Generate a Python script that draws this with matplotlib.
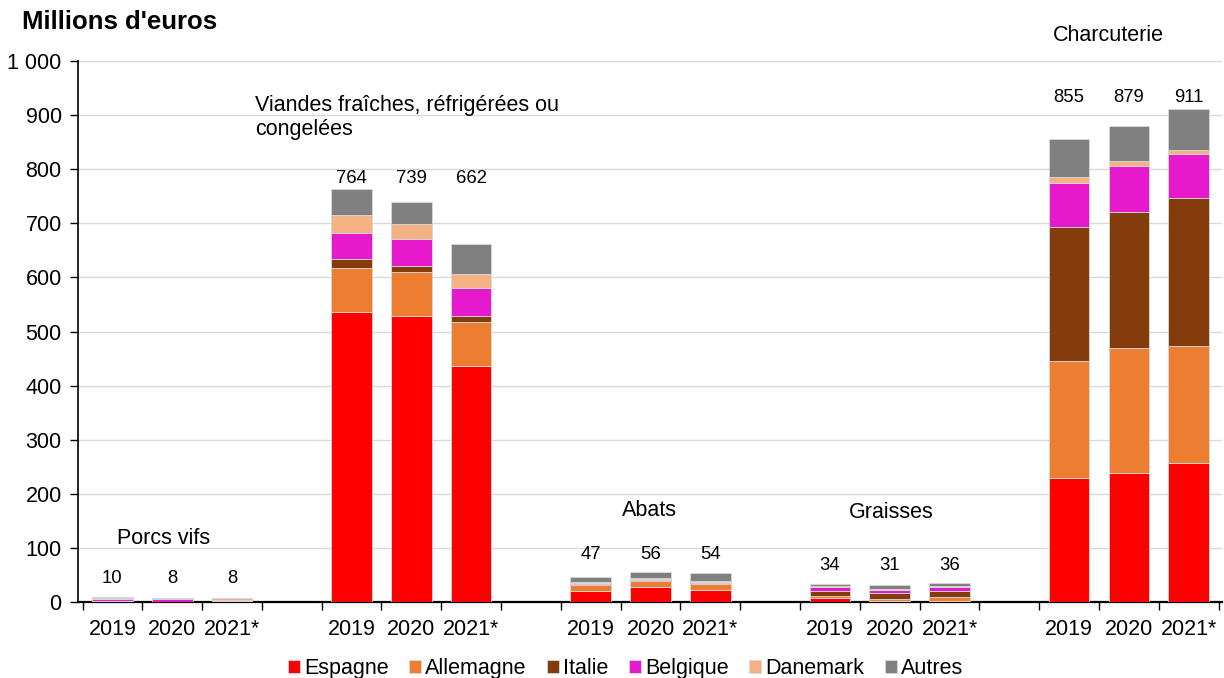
import matplotlib.pyplot as plt
import numpy as np

plt.rcParams["font.family"] = ["Liberation Sans", "DejaVu Sans"]

GROUPS = ["Porcs vifs", "Viandes fraîches, réfrigérées ou\ncongelées", "Abats", "Graisses", "Charcuterie"]
YEARS = ["2019", "2020", "2021*"]
COUNTRIES = ["Espagne", "Allemagne", "Italie", "Belgique", "Danemark", "Autres"]

# one row per bar (group x year), in country order
espagne = [1, 1, 1, 536, 529, 436, 20, 28, 22, 7, 2, 2, 229, 238, 257]
allemagne = [1, 0, 1, 81, 81, 82, 12, 11, 12, 4, 3, 7, 216, 232, 216]
italie = [0, 0, 0, 17, 11, 11, 1, 2, 1, 9, 12, 11, 248, 251, 274]
belgique = [3, 4, 2, 48, 50, 51, 2, 2, 3, 8, 6, 8, 81, 85, 81]
danemark = [3, 1, 3, 33, 28, 26, 2, 1, 1, 2, 1, 1, 12, 9, 8]
autres = [2, 2, 1, 49, 40, 56, 10, 12, 15, 4, 7, 7, 69, 64, 75]
totals = [10, 8, 8, 764, 739, 662, 47, 56, 54, 34, 31, 36, 855, 879, 911]

COLORS = ["#FF0000", "#ED7D31", "#843C0C", "#E619CC", "#F4B183", "#808080"]

series = [espagne, allemagne, italie, belgique, danemark, autres]

# three bars per group, one empty slot between groups
positions = np.array([g * 4 + i for g in range(len(GROUPS)) for i in range(len(YEARS))], dtype=float)

fig = plt.figure(figsize=(12.24, 6.78), dpi=100)
ax = fig.add_axes([0.064, 0.112, 0.934, 0.798])

bottom = np.zeros(len(positions))
for name, values, color in zip(COUNTRIES, series, COLORS):
    ax.bar(positions, values, bottom=bottom, width=0.68, color=color, label=name,
           edgecolor="#d9d9d9", linewidth=0.6, zorder=3)
    bottom += np.array(values)

# totals above each bar
label_pad = [34, 18, 31, 31, 21]
for g in range(len(GROUPS)):
    idx = slice(g * 3, g * 3 + 3)
    top = max(totals[idx])
    for x, t in zip(positions[idx], totals[idx]):
        ax.text(x, top + label_pad[g], f"{t}", ha="center", va="center", fontsize=13.3, color="#000000")

# group names
ax.text(0.85, 118, GROUPS[0], ha="center", va="center", fontsize=15.5)
ax.text(2.39, 938, GROUPS[1], ha="left", va="top", fontsize=15.5, linespacing=1.2)
ax.text(8.98, 170, GROUPS[2], ha="center", va="center", fontsize=15.5)
ax.text(13.03, 165, GROUPS[3], ha="center", va="center", fontsize=15.5)
ax.text(16.65, 1048, GROUPS[4], ha="center", va="center", fontsize=15.5, clip_on=False)

ax.set_xlim(-0.57, 18.55)
ax.set_ylim(0, 1000)
ax.set_yticks(range(0, 1001, 100))
ax.set_yticklabels([f"{v:,}".replace(",", " ") for v in range(0, 1001, 100)], fontsize=15.5)
ax.tick_params(axis="y", length=6, width=1, direction="out", pad=6)

ax.set_xticks(positions)
ax.set_xticklabels(YEARS * len(GROUPS), fontsize=15.5)
ax.tick_params(axis="x", which="major", length=0, pad=12)
ax.set_xticks(np.arange(-0.5, 19, 1.0), minor=True)
ax.tick_params(axis="x", which="minor", length=6, width=1, direction="out")

ax.grid(axis="y", color="#d9d9d9", linewidth=1, zorder=0)
ax.set_axisbelow(True)
for side in ["top", "right"]:
    ax.spines[side].set_visible(False)
ax.spines["left"].set_linewidth(1.2)
ax.spines["bottom"].set_linewidth(1.6)

fig.text(0.018, 0.967, "Millions d'euros", fontsize=18.5, fontweight="bold", ha="left", va="center")

fig.legend(loc="center", bbox_to_anchor=(0.511, 0.014), ncol=6, frameon=False, fontsize=15.5,
           handlelength=0.55, handleheight=0.55, handletextpad=0.2, columnspacing=0.95, borderaxespad=0)

fig.savefig("out.png", dpi=100)
